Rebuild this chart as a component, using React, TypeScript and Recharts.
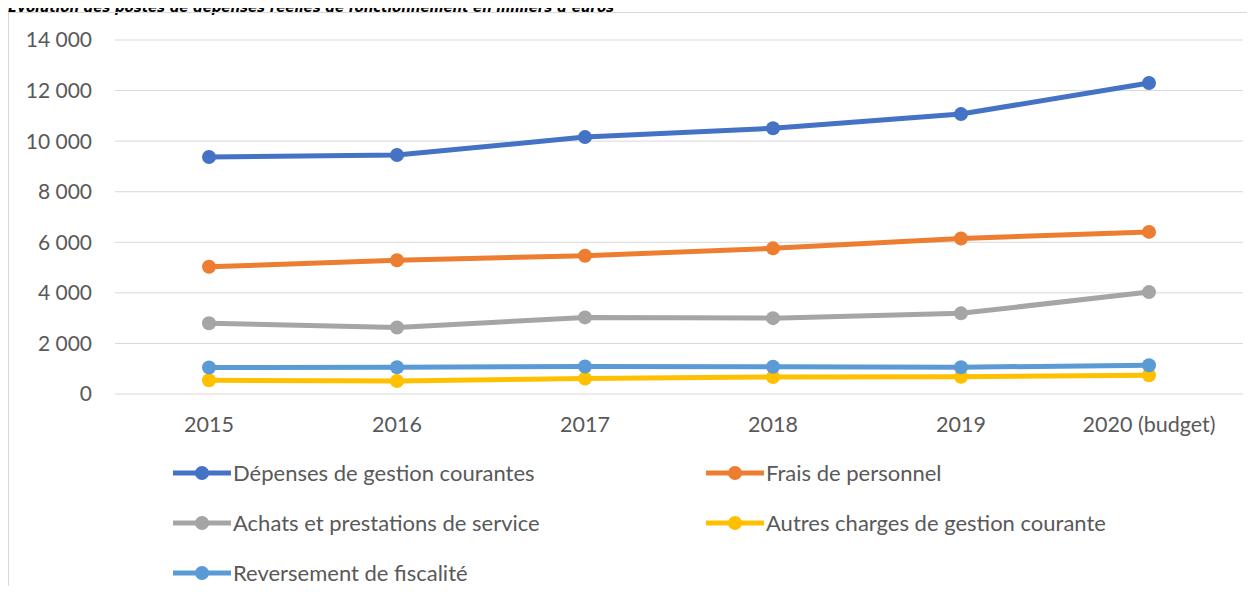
import React from 'react';
import {
  LineChart,
  Line,
  XAxis,
  YAxis,
  CartesianGrid,
} from 'recharts';

const years = ['2015', '2016', '2017', '2018', '2019', '2020 (budget)'];

const depensesGestion = [9370, 9450, 10160, 10510, 11070, 12300];
const fraisPersonnel = [5030, 5290, 5470, 5760, 6150, 6410];
const achatsPrestations = [2800, 2630, 3030, 3000, 3190, 4030];
const autresCharges = [545, 515, 610, 675, 680, 740];
const reversementFiscalite = [1050, 1060, 1085, 1075, 1060, 1135];

const yTicks = [0, 2000, 4000, 6000, 8000, 10000, 12000, 14000];

const SERIES = [
  { key: 'depenses', name: 'Dépenses de gestion courantes', color: '#4472C4', values: depensesGestion },
  { key: 'frais', name: 'Frais de personnel', color: '#ED7D31', values: fraisPersonnel },
  { key: 'achats', name: 'Achats et prestations de service', color: '#A5A5A5', values: achatsPrestations },
  { key: 'autres', name: 'Autres charges de gestion courante', color: '#FFC000', values: autresCharges },
  { key: 'reversement', name: 'Reversement de fiscalité', color: '#5B9BD5', values: reversementFiscalite },
];

const data = years.map((year, i) => {
  const row: Record<string, string | number> = { year };
  SERIES.forEach((s) => {
    row[s.key] = s.values[i];
  });
  return row;
});

const FONT = 'Lato, "Open Sans", sans-serif';
const TEXT_COLOR = '#595959';
const GRID_COLOR = '#d9d9d9';

const formatThousands = (v: number) =>
  String(v).replace(/\B(?=(\d{3})+(?!\d))/g, ' ');

function LegendIcon({ color }: { color: string }) {
  return (
    <svg width={60} height={16} style={{ display: 'block' }}>
      <line x1={1} y1={8} x2={59} y2={8} stroke={color} strokeWidth={5} />
      <circle cx={30} cy={8} r={7} fill={color} />
    </svg>
  );
}

export default function App() {
  return (
    <div style={{ position: 'relative', width: 1247, height: 578, fontFamily: FONT }}>
      <div
        style={{
          position: 'absolute',
          left: 0,
          top: -7,
          fontFamily: '"DejaVu Sans", sans-serif',
          fontSize: 13.4,
          lineHeight: '13px',
          fontWeight: 700,
          fontStyle: 'italic',
          color: '#000',
          whiteSpace: 'nowrap',
        }}
      >
        Évolution des postes de dépenses réelles de fonctionnement en milliers d’euros
      </div>
      <div
        style={{
          position: 'absolute',
          left: 0,
          top: 4,
          width: 1246,
          height: 574,
          borderLeft: `1px solid ${GRID_COLOR}`,
          borderTop: `1px solid ${GRID_COLOR}`,
          boxSizing: 'border-box',
        }}
      />
      <div style={{ position: 'absolute', left: 0, top: 0 }}>
        <LineChart
          width={1247}
          height={440}
          data={data}
          margin={{ top: 32, right: 12, left: 0, bottom: 24 }}
        >
          <CartesianGrid vertical={false} stroke={GRID_COLOR} strokeWidth={1} />
          <XAxis
            dataKey="year"
            height={30}
            axisLine={false}
            tickLine={false}
            tickSize={0}
            tickMargin={23}
            padding={{ left: 94, right: 94 }}
            tick={{ fill: TEXT_COLOR, fontSize: 21.5, fontFamily: FONT }}
          />
          <YAxis
            width={107}
            domain={[0, 14000]}
            ticks={yTicks}
            axisLine={false}
            tickLine={false}
            tickSize={0}
            tickMargin={23}
            tickFormatter={formatThousands}
            tick={{ fill: TEXT_COLOR, fontSize: 21, fontFamily: FONT }}
          />
          {SERIES.map((s) => (
            <Line
              key={s.key}
              type="linear"
              dataKey={s.key}
              name={s.name}
              stroke={s.color}
              strokeWidth={5}
              dot={{ r: 7, fill: s.color, stroke: 'none' }}
              activeDot={false}
              isAnimationActive={false}
            />
          ))}
        </LineChart>
      </div>
      <div
        style={{
          position: 'absolute',
          left: 164,
          top: 440,
          width: 1080,
          display: 'flex',
          flexWrap: 'wrap',
        }}
      >
        {SERIES.map((s) => (
          <div
            key={s.key}
            style={{
              width: 533,
              height: 50,
              display: 'flex',
              alignItems: 'center',
            }}
          >
            <LegendIcon color={s.color} />
            <span
              style={{
                fontSize: 22,
                lineHeight: '26px',
                color: TEXT_COLOR,
                marginLeft: 1,
                whiteSpace: 'nowrap',
              }}
            >
              {s.name}
            </span>
          </div>
        ))}
      </div>
    </div>
  );
}
